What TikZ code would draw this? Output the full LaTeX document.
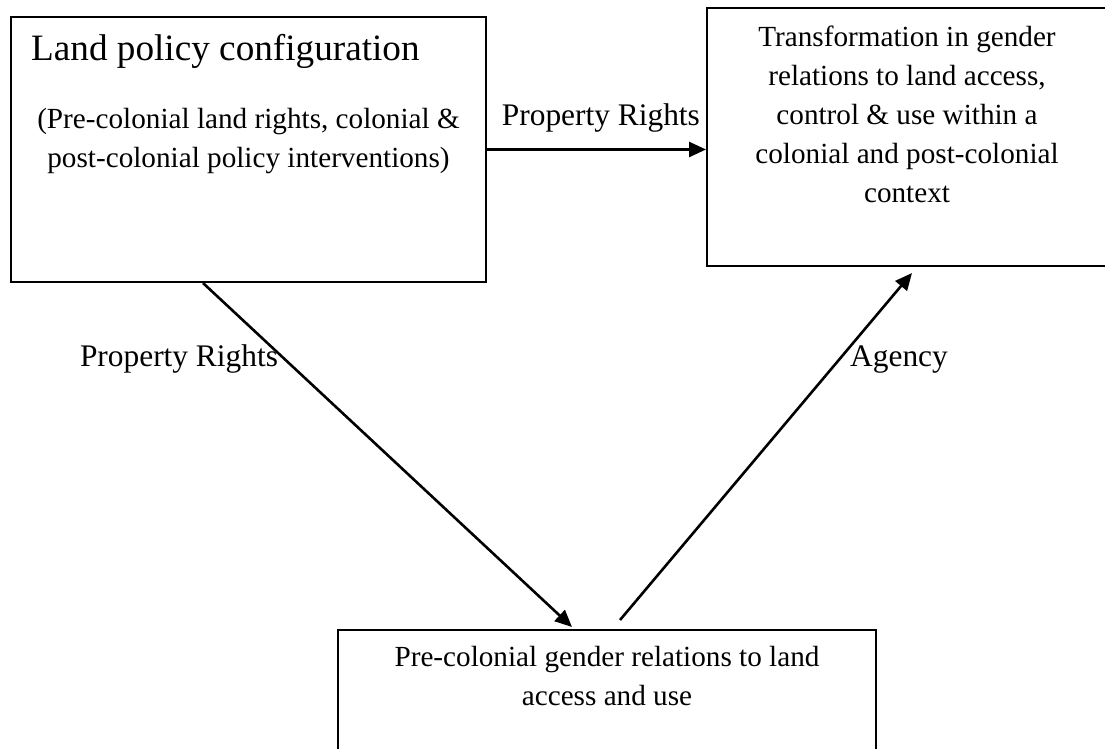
\documentclass[tikz,border=0pt]{standalone}
\usepackage{fontspec}
\setmainfont{Liberation Serif}
\usepackage{tikz}
\usepackage{xcolor}
\usetikzlibrary{calc}
\usetikzlibrary{arrows.meta}

\begin{document}
\begin{tikzpicture}[x=1pt,y=-1pt]

\tikzset{
    cadre/.style = {
    draw,
    line width=2pt,
    inner sep=0pt,
    anchor=north west
    }
}

\tikzstyle{fleche}=[line width=2.6pt, -{Triangle[length=17pt,width=15pt]}]
\tikzstyle{titre}=[inner sep=0pt, font=\fontsize{37.2}{44}\selectfont]
\tikzstyle{texte}=[inner sep=0pt, align=center, font=\fontsize{29.2}{39}\selectfont]
\tikzstyle{etiquette}=[inner sep=0pt, font=\fontsize{31.4}{38}\selectfont]

\useasboundingbox (0,0) rectangle (1105,749);

\node (policy) [cadre, minimum width=475pt, minimum height=265pt] at (10,16) {};
\node (transfo) [cadre, minimum width=420pt, minimum height=258pt] at (706,7) {};
\node (precol) [cadre, minimum width=538pt, minimum height=140pt] at (337,629) {};

% textes (ancre sur la derniere ligne)
\node (policy-titre) [titre, anchor=base west] at ([shift={(21pt,-45pt)}]policy.north west) {Land policy configuration};
\node (policy-texte) [texte, anchor=base] at ([yshift=-151pt]policy.north) {(Pre-colonial land rights, colonial \&\\post-colonial policy interventions)};

\node (transfo-texte) [texte, anchor=base] at ([shift={(201pt,-195pt)}]transfo.north west) {Transformation in gender\\relations to land access,\\control \& use within a\\colonial and post-colonial\\context};

\node (precol-texte) [texte, anchor=base] at ([yshift=-76pt]precol.north) {Pre-colonial gender relations to land\\access and use};

% fleches
\draw [fleche] (policy.east) -- (policy.east -| transfo.west) node (droits-haut) [etiquette, pos=0.52, anchor=base, yshift=24pt] {Property Rights};

\draw [fleche] ([xshift=193pt]policy.south west) -- ([shift={(235pt,2pt)}]precol.north west);

\draw [fleche] ([shift={(283pt,9pt)}]precol.north west) -- ([shift={(206pt,-6pt)}]transfo.south west);

\node (droits-bas) [etiquette, anchor=base] at (179,366) {Property Rights};
\node (agence) [etiquette, anchor=base] at (899,366) {Agency};

\end{tikzpicture}
\end{document}
